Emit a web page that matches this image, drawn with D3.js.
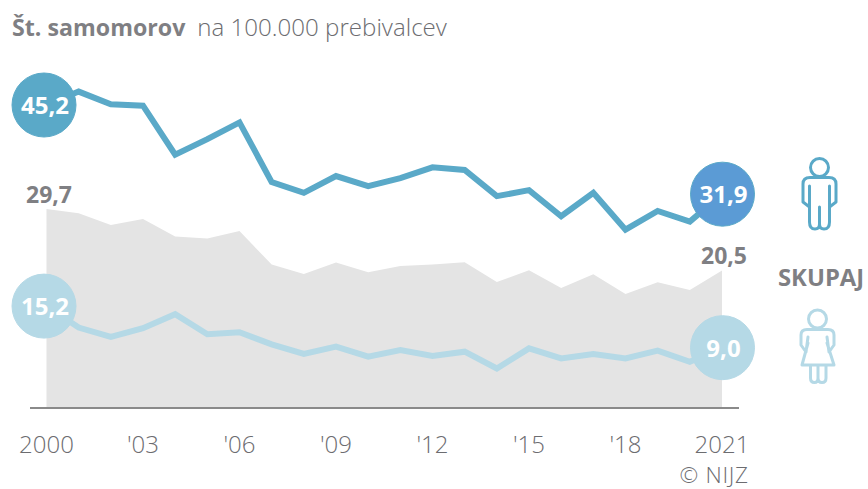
<!DOCTYPE html>
<html><head><meta charset="utf-8">
<script src="https://cdn.jsdelivr.net/npm/d3@7/dist/d3.min.js"></script>
<style>html,body{margin:0;padding:0;background:#fff}svg{display:block}text{font-family:"Open Sans",sans-serif}</style>
</head><body><svg id="c" width="868" height="489"></svg>
<script>
const years = d3.range(2000, 2022);
const men = [45.2,47.2,45.3,45.1,37.8,40.1,42.6,33.7,32.1,34.6,33.1,34.3,35.9,35.5,31.6,32.5,28.6,32.1,26.6,29.4,27.8,31.9];
const total = [29.7,29.05,27.3,28.2,25.6,25.3,26.4,21.4,20.0,21.7,20.25,21.2,21.4,21.75,18.8,20.55,17.9,19.95,17.0,18.75,17.6,20.5];
const women = [15.2,12.0,10.6,11.9,14.0,11.0,11.3,9.5,8.06,9.15,7.66,8.66,7.76,8.4,5.9,8.9,7.4,8.06,7.4,8.55,6.9,9.0];
const tickYears = [2000,2003,2006,2009,2012,2015,2018,2021];
const tickLabels = ["2000","'03","'06","'09","'12","'15","'18","2021"];

const svg = d3.select("#c");
const x = d3.scaleLinear().domain([2000,2021]).range([46.5,722]);
const y = d3.scaleLinear().domain([0,45.2]).range([408,105]);
const GRAY="#7F7F83", LIGHTTEXT="#6C6C70", MEN="#5AA9C8", WOMEN="#B5D9E6";

svg.append("path").datum(total)
  .attr("fill","#E4E4E4")
  .attr("d", d3.area().x((d,i)=>x(years[i])).y0(y(0)).y1(d=>y(d)));
svg.append("line").attr("x1",30).attr("x2",739).attr("y1",408).attr("y2",408)
  .attr("stroke","#8a8a8a").attr("stroke-width",2);

const line = d3.line().x((d,i)=>x(years[i])).y(d=>y(d));
svg.append("path").datum(women).attr("fill","none").attr("stroke",WOMEN).attr("stroke-width",6).attr("stroke-linejoin","miter").attr("d",line);
svg.append("path").datum(men).attr("fill","none").attr("stroke",MEN).attr("stroke-width",6).attr("stroke-linejoin","miter").attr("d",line);

const bubbles = [
 {s:men,i:0,fill:MEN,stroke:MEN},
 {s:women,i:0,fill:WOMEN,stroke:WOMEN},
 {s:men,i:21,fill:"#5B9BD5",stroke:MEN},
 {s:women,i:21,fill:WOMEN,stroke:WOMEN}
];
const fmt = v => v.toFixed(1).replace(".",",");
bubbles.forEach(b=>{
  const cx = b.i===0 ? x(years[0])-2.5 : x(years[21])+0.5;
  const cy = y(b.s[b.i]);
  svg.append("circle").attr("cx",cx).attr("cy",cy).attr("r",32).attr("fill",b.fill).attr("stroke",b.stroke).attr("stroke-width",1);
  svg.append("text").attr("x",cx+1).attr("y",cy+9).attr("text-anchor","middle")
    .attr("font-size",24).attr("font-weight",700).attr("fill","#fff").text(fmt(b.s[b.i]));
});

svg.append("text").attr("x",26).attr("y",203).attr("font-size",23).attr("font-weight",700).attr("fill",GRAY).text(fmt(total[0]));
svg.append("text").attr("x",701).attr("y",264).attr("font-size",23).attr("font-weight",700).attr("fill",GRAY).text(fmt(total[21]));
svg.append("text").attr("x",778).attr("y",286).attr("font-size",23.8).attr("font-weight",700).attr("fill",GRAY).text("SKUPAJ");

const t = svg.append("text").attr("x",12).attr("y",36).attr("fill",GRAY).attr("font-size",23.2);
t.append("tspan").attr("font-weight",700).text("Št. samomorov");
t.append("tspan").attr("dx",12).attr("font-size",24.1).attr("font-weight",300).attr("fill",LIGHTTEXT).text("na 100.000 prebivalcev");

svg.selectAll(".tick").data(tickYears).join("text").attr("class","tick")
  .attr("x",d=>x(d)).attr("y",453).attr("text-anchor","middle")
  .attr("font-size",24).attr("font-weight",300).attr("fill",LIGHTTEXT).text((d,i)=>tickLabels[i]);
svg.append("text").attr("x",748.7).attr("y",483).attr("text-anchor","end").attr("font-size",22.5).attr("letter-spacing",0.7).attr("font-weight",300).attr("fill",LIGHTTEXT).text("© NIJZ");

// icons
const icon = svg.append("g").attr("fill","none").attr("stroke-width",3).attr("stroke-linecap","round").attr("stroke-linejoin","round");
const m = icon.append("g").attr("stroke",MEN);
m.append("circle").attr("cx",819.5).attr("cy",167.5).attr("r",9);
m.append("path").attr("d","M809.5 186V222Q809.5 229 815 229Q819.5 229 819.5 224V207M819.5 224Q819.5 229 824 229Q829.5 229 829.5 222V186M809.5 207L803 202V184Q803 177.5 810 177.5H829Q836 177.5 836 184V202L829.5 207");
const w = icon.append("g").attr("stroke",WOMEN);
w.append("circle").attr("cx",817.5).attr("cy",319).attr("r",9);
w.append("path").attr("d","M808 337L806 352L801 345V335Q801 329.5 807 329.5H828Q834 329.5 834 335V345L829 352L827 337M808 343L802 365H834L827 343M810.5 365V378Q810.5 382.5 814.5 382.5Q818 382.5 818 378V365M818 378Q818 382.5 822 382.5Q826 382.5 826 378V365");
</script></body></html>
